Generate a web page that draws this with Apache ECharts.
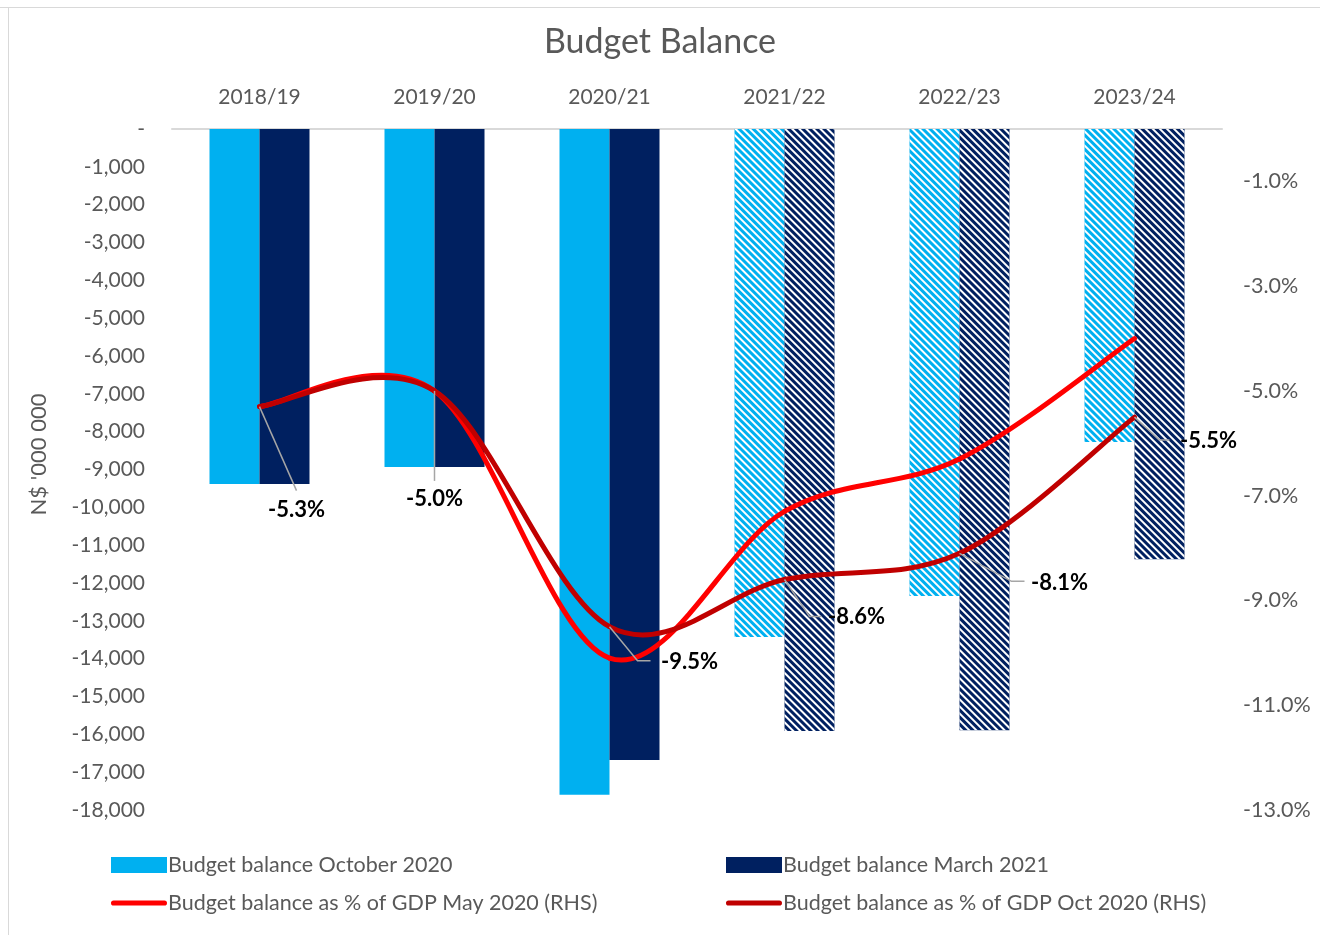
<!DOCTYPE html>
<html>
<head>
<meta charset="utf-8">
<script src="https://cdn.jsdelivr.net/npm/echarts@6/dist/echarts.min.js"></script>
<style>
  html, body { margin: 0; padding: 0; background: #ffffff; }
  #chart { width: 1320px; height: 935px; }
</style>
</head>
<body>
<div id="chart"></div>
<script>
// Fiscal years shown along the top axis
const years = ['2018/19', '2019/20', '2020/21', '2021/22', '2022/23', '2023/24'];

// Budget balance, N$ million
const balanceOct2020 = [-9380, -8935, -17600, -13430, -12345, -8270];
const balanceMar2021 = [-9380, -8935, -16680, -15910, -15890, -11370];

// Budget balance as % of GDP (right-hand scale)
const gdpMay2020 = [-5.3, -5.0, -10.1, -7.3, -6.3, -4.0];
const gdpOct2020 = [-5.3, -5.0, -9.5, -8.6, -8.1, -5.5];

// Years from this index onward are projections and drawn hatched
const projectionStart = 3;

// Call-out placement for the Oct 2020 labels: label centre offset and leader polyline (px from the point)
const calloutCentre = [[37, 103], [0, 108], [80, 35], [72, 37], [100, 30], [74, 24]];
const calloutLeader = [
  [[0, 0], [37, 84]],
  [[0, 0], [0, 90]],
  [[0, 0], [28, 34], [41, 34]],
  [[0, 0], [25, 37], [37, 37]],
  [[0, 0], [52, 28], [65, 28]],
  [[0, 0], [25, 23], [35, 23]]
];

const textGrey = '#595959';
const fontFamily = 'Lato, "Open Sans", sans-serif';

const hatch = {
  symbol: 'rect',
  symbolSize: 1,
  dashArrayX: [1, 0],
  dashArrayY: [1.7, 2.1],
  rotation: Math.PI / 4,
  color: '#ffffff'
};

function barData(values, color) {
  return values.map((v, i) => ({
    value: v,
    itemStyle: i >= projectionStart ? { color: color, decal: hatch } : { color: color }
  }));
}

// Smooth curve through the points (Catmull-Rom style bezier segments),
// one segment drawn per data item, optionally with call-out labels.
function curveRenderer(values, color, withLabels) {
  return function (params, api) {
    const i = params.dataIndex;
    const pts = values.map((v, j) => api.coord([j, v]));
    const n = pts.length;
    const children = [];
    if (i < n - 1) {
      const p0 = pts[Math.max(i - 1, 0)];
      const p1 = pts[i];
      const p2 = pts[i + 1];
      const p3 = pts[Math.min(i + 2, n - 1)];
      children.push({
        type: 'bezierCurve',
        shape: {
          x1: p1[0], y1: p1[1],
          x2: p2[0], y2: p2[1],
          cpx1: p1[0] + (p2[0] - p0[0]) / 6,
          cpy1: p1[1] + (p2[1] - p0[1]) / 6,
          cpx2: p2[0] - (p3[0] - p1[0]) / 6,
          cpy2: p2[1] - (p3[1] - p1[1]) / 6
        },
        style: { stroke: color, lineWidth: 5, fill: 'none', lineCap: 'round' },
        z2: 1
      });
    }
    if (withLabels) {
      const p = pts[i];
      children.push({
        type: 'polyline',
        shape: { points: calloutLeader[i].map(d => [p[0] + d[0], p[1] + d[1]]) },
        style: { stroke: '#a6a6a6', lineWidth: 1.5, fill: 'none' },
        z2: 5
      });
      children.push({
        type: 'text',
        x: p[0] + calloutCentre[i][0],
        y: p[1] + calloutCentre[i][1],
        style: {
          text: values[i].toFixed(1) + '%',
          fill: '#000000',
          font: 'bold 22px ' + fontFamily,
          align: 'center',
          verticalAlign: 'middle'
        },
        z2: 10
      });
    }
    return { type: 'group', children: children };
  };
}

const lineIcon = 'path://M2.5,0 L51.5,0 A2.5,2.5 0 0 1 51.5,5 L2.5,5 A2.5,2.5 0 0 1 2.5,0 Z';

const chart = echarts.init(document.getElementById('chart'));

chart.setOption({
  backgroundColor: '#ffffff',
  textStyle: { fontFamily: fontFamily },
  title: {
    text: 'Budget Balance',
    left: 'center',
    top: 20,
    textStyle: { fontSize: 34, fontWeight: 'normal', color: textGrey, fontFamily: fontFamily }
  },
  graphic: [
    { type: 'line', shape: { x1: 0, y1: 7.5, x2: 1320, y2: 7.5 }, style: { stroke: '#d9d9d9', lineWidth: 1 } },
    { type: 'line', shape: { x1: 8.5, y1: 7, x2: 8.5, y2: 935 }, style: { stroke: '#d9d9d9', lineWidth: 1 } }
  ],
  legend: [
    {
      orient: 'vertical',
      left: 106,
      top: 849,
      itemGap: 16,
      itemWidth: 56,
      itemHeight: 16,
      symbolKeepAspect: true,
      textStyle: { fontSize: 21.5, color: textGrey, fontFamily: fontFamily, padding: [0, 0, 0, -4] },
      data: [
        { name: 'Budget balance October 2020', icon: 'rect' },
        { name: 'Budget balance as % of GDP May 2020 (RHS)', icon: lineIcon }
      ]
    },
    {
      orient: 'vertical',
      left: 721,
      top: 849,
      itemGap: 16,
      itemWidth: 56,
      itemHeight: 16,
      symbolKeepAspect: true,
      textStyle: { fontSize: 21.5, color: textGrey, fontFamily: fontFamily, padding: [0, 0, 0, -4] },
      data: [
        { name: 'Budget balance March 2021', icon: 'rect' },
        { name: 'Budget balance as % of GDP Oct 2020 (RHS)', icon: lineIcon }
      ]
    }
  ],
  grid: { left: 172, right: 98, top: 129, bottom: 125 },
  xAxis: {
    type: 'category',
    position: 'top',
    data: years,
    axisLine: { show: true, lineStyle: { color: '#d9d9d9', width: 2 } },
    axisTick: { show: false },
    axisLabel: { fontSize: 21, color: textGrey, margin: 21, fontFamily: fontFamily }
  },
  yAxis: [
    {
      type: 'value',
      min: -18000,
      max: 0,
      interval: 1000,
      name: "N$ '000 000",
      nameLocation: 'middle',
      nameGap: 122,
      nameRotate: 90,
      nameTextStyle: { fontSize: 22, color: textGrey, fontFamily: fontFamily, padding: [0, 0, 0, 30] },
      axisLine: { show: false },
      axisTick: { show: false },
      splitLine: { show: false },
      axisLabel: {
        fontSize: 21,
        color: textGrey,
        margin: 27,
        fontFamily: fontFamily,
        formatter: v => v === 0 ? '-' : v.toLocaleString('en-US')
      }
    },
    {
      type: 'value',
      min: -13,
      max: 0,
      interval: 1,
      position: 'right',
      axisLine: { show: false },
      axisTick: { show: false },
      splitLine: { show: false },
      axisLabel: {
        fontSize: 21.5,
        color: textGrey,
        margin: 21,
        fontFamily: fontFamily,
        formatter: v => (Math.round(v) % 2 !== 0) ? v.toFixed(1) + '%' : ''
      }
    }
  ],
  series: [
    {
      name: 'Budget balance October 2020',
      type: 'bar',
      barWidth: 50,
      barGap: '0%',
      itemStyle: { color: '#00b0f0' },
      data: barData(balanceOct2020, '#00b0f0'),
      z: 2
    },
    {
      name: 'Budget balance March 2021',
      type: 'bar',
      barWidth: 50,
      barGap: '0%',
      itemStyle: { color: '#002060' },
      data: barData(balanceMar2021, '#002060'),
      z: 2
    },
    {
      name: 'Budget balance as % of GDP May 2020 (RHS)',
      type: 'custom',
      coordinateSystem: 'cartesian2d',
      yAxisIndex: 1,
      itemStyle: { color: '#ff0000' },
      renderItem: curveRenderer(gdpMay2020, '#ff0000', false),
      data: gdpMay2020.map((v, i) => [i, v]),
      z: 4
    },
    {
      name: 'Budget balance as % of GDP Oct 2020 (RHS)',
      type: 'custom',
      coordinateSystem: 'cartesian2d',
      yAxisIndex: 1,
      itemStyle: { color: '#c00000' },
      renderItem: curveRenderer(gdpOct2020, '#c00000', true),
      data: gdpOct2020.map((v, i) => [i, v]),
      z: 5
    }
  ]
});
</script>
</body>
</html>
